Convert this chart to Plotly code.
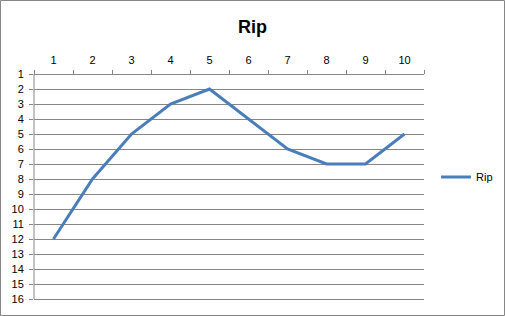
import plotly.graph_objects as go

categories = ["1", "2", "3", "4", "5", "6", "7", "8", "9", "10"]
rip_values = [12, 8, 5, 3, 2, 4, 6, 7, 7, 5]
y_ticks = list(range(1, 17))

W, H = 505, 316
L, R, T, B = 34, 81, 72, 15
pw, ph = W - L - R, H - T - B
pad = 2 / 15.0  # axis padding so that the end gridlines are drawn
grey = "#868686"

fig = go.Figure()
fig.add_trace(go.Scatter(
    x=categories, y=rip_values, mode="lines", name="Rip",
    line=dict(color="#4A7EBB", width=3),
))

font_family = "Liberation Sans, Arial, sans-serif"
fig.update_layout(
    width=W, height=H,
    margin=dict(l=L, r=R, t=T, b=B, autoexpand=False),
    paper_bgcolor="white", plot_bgcolor="white",
    title=dict(text="<b>Rip</b>", x=0.5, xref="container", xanchor="center",
               y=1 - 27 / H, yanchor="middle",
               font=dict(family=font_family, size=18, color="black")),
    font=dict(family=font_family, size=11, color="black"),
    showlegend=True,
    legend=dict(x=(436 - L) / pw, y=(H - B - 177) / ph, xanchor="left", yanchor="middle",
                font=dict(size=11), bgcolor="rgba(0,0,0,0)", itemwidth=30),
    xaxis=dict(type="category", side="top", range=[-0.5, 9.5],
               anchor="free", position=(ph - 2) / ph,
               showgrid=False, showline=False,
               ticks="outside", ticklen=4, tickcolor=grey, tickson="boundaries",
               ticklabelstandoff=8,
               zeroline=False, fixedrange=True),
    yaxis=dict(range=[16 + pad, 1 - pad], tickvals=y_ticks, ticktext=[str(v) for v in y_ticks],
               showgrid=True, gridcolor=grey, gridwidth=1,
               showline=False,
               ticks="outside", ticklen=4, tickcolor=grey, ticklabelstandoff=3,
               zeroline=False, fixedrange=True),
)

# left axis line
fig.add_shape(type="line", xref="paper", yref="y", x0=0, x1=0, y0=min(y_ticks), y1=max(y_ticks),
              line=dict(color=grey, width=1))
# outer chart border
fig.add_shape(type="rect", xref="paper", yref="paper",
              x0=(0.5 - L) / pw, x1=(W - 0.5 - L) / pw,
              y0=(H - B - (H - 0.5)) / ph, y1=(H - B - 0.5) / ph,
              line=dict(color=grey, width=1), fillcolor="rgba(0,0,0,0)", layer="below")

fig.write_html("out.html")
